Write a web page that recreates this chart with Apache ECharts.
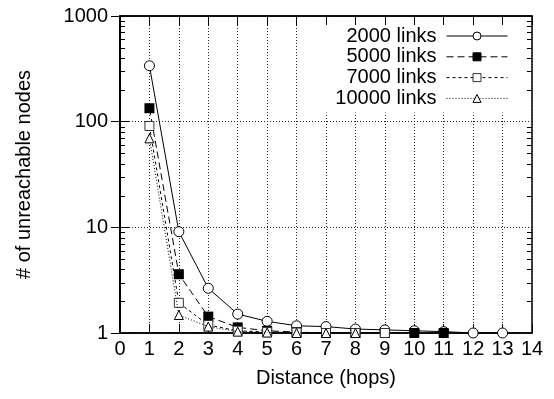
<!DOCTYPE html>
<html><head><meta charset="utf-8">
<script src="https://cdn.jsdelivr.net/npm/echarts@6/dist/echarts.min.js"></script>
<style>html,body{margin:0;padding:0;background:#fff}#c{width:554px;height:399px}</style>
</head><body><div id="c"></div>
<script>
var hops = [1,2,3,4,5,6,7,8,9,10,11,12,13];
var links2000  = [338, 9.1, 2.65, 1.51, 1.29, 1.17, 1.15, 1.09, 1.07, 1.05, 1.03, 1.0, 1.0];
var links5000  = [134, 3.6, 1.43, 1.13, 1.05, 1.02, 1.0, 1.0, 1.0, 1.0, 1.0];
var links7000  = [91, 1.93, 1.19, 1.05, 1.02, 1.01, 1.0, 1.0, 1.0];
var links10000 = [69.5, 1.48, 1.15, 1.03, 1.01, 1.0, 1.0, 1.0];
var xTicks = [0,1,2,3,4,5,6,7,8,9,10,11,12,13,14];
var yMajor = [1, 10, 100, 1000];
var yMinor = [2,3,4,5,6,7,8,9,20,30,40,50,60,70,80,90,200,300,400,500,600,700,800,900];
var names = ['2000 links','5000 links','7000 links','10000 links'];

var FONT = 'Liberation Sans, Arial, sans-serif';
function pairs(vals){ return vals.map(function(v,i){ return [hops[i], v]; }); }

var chart = echarts.init(document.getElementById('c'), null, {renderer:'canvas'});
var tickStyle = {inside:true, length:9, lineStyle:{color:'#000', width:1}};
var option = {
  animation:false,
  backgroundColor:'#fff',
  textStyle:{fontFamily:FONT},
  grid:{left:120, right:22, top:16, bottom:66, show:true, borderColor:'#000', borderWidth:1.5, backgroundColor:'transparent'},
  legend:{
    orient:'vertical', align:'right', right:42, top:25, padding:[1,4,4,30],
    backgroundColor:'#fff',
    itemWidth:61, itemHeight:10, itemGap:0.8,
    lineStyle:{width:1},
    itemStyle:{borderWidth:1},
    textStyle:{fontFamily:FONT, fontSize:20, color:'#000', lineHeight:20, padding:[0,5,0,0]},
    data:names
  },
  xAxis:[{
    type:'value', min:0, max:14, interval:1, position:'bottom',
    name:'Distance (hops)', nameLocation:'middle', nameGap:35,
    nameTextStyle:{fontFamily:FONT, fontSize:20, color:'#000'},
    axisLine:{show:true, lineStyle:{color:'#000', width:1.5}},
    axisTick:tickStyle,
    axisLabel:{fontFamily:FONT, fontSize:20, color:'#000', margin:6,
      formatter:function(v){ return xTicks.indexOf(v)>=0 ? String(v) : ''; }},
    splitLine:{show:true, lineStyle:{color:'#222', type:[1,2], width:1}}
  },{
    type:'value', min:0, max:14, interval:1, position:'top',
    axisLine:{show:true, lineStyle:{color:'#000', width:1.5}},
    axisTick:tickStyle, axisLabel:{show:false}, splitLine:{show:false}
  }],
  yAxis:[{
    type:'log', logBase:10, min:1, max:1000, position:'left',
    name:'# of unreachable nodes', nameLocation:'middle', nameGap:86,
    nameTextStyle:{fontFamily:FONT, fontSize:20, color:'#000'},
    axisLine:{show:true, lineStyle:{color:'#000', width:1.5}},
    axisTick:tickStyle,
    axisLabel:{fontFamily:FONT, fontSize:20, color:'#000', margin:12,
      formatter:function(v){ return yMajor.indexOf(Math.round(v))>=0 ? String(Math.round(v)) : ''; }},
    splitLine:{show:true, lineStyle:{color:'#222', type:[1,2], width:1}}
  },{
    type:'log', logBase:10, min:1, max:1000, position:'right',
    axisLine:{show:true, lineStyle:{color:'#000', width:1.5}},
    axisTick:tickStyle, axisLabel:{show:false}, splitLine:{show:false}
  }],
  series:[
    {name:names[0], type:'line', data:pairs(links2000), symbol:'circle', symbolSize:10,
     itemStyle:{color:'#fff', borderColor:'#000', borderWidth:1},
     lineStyle:{color:'#000', width:1, type:'solid'}, z:2},
    {name:names[1], type:'line', data:pairs(links5000), symbol:'rect', symbolSize:10,
     itemStyle:{color:'#000', borderColor:'#000', borderWidth:0},
     lineStyle:{color:'#000', width:1, type:[7,4]}, z:3},
    {name:names[2], type:'line', data:pairs(links7000), symbol:'rect', symbolSize:9,
     itemStyle:{color:'#fff', borderColor:'#333', borderWidth:1},
     lineStyle:{color:'#000', width:1, type:[3,3]}, z:4},
    {name:names[3], type:'line', data:pairs(links10000), symbol:'triangle', symbolSize:9,
     itemStyle:{color:'#fff', borderColor:'#000', borderWidth:1},
     lineStyle:{color:'#000', width:1, type:[1,2]}, z:5}
  ]
};
chart.setOption(option);

// minor log ticks at 2..9 × decade, placed through the axis scale
var x0 = chart.convertToPixel({xAxisIndex:0}, 0);
var x1 = chart.convertToPixel({xAxisIndex:0}, 14);
var els = [];
yMinor.forEach(function(v){
  var y = Math.round(chart.convertToPixel({yAxisIndex:0}, v)) + 0.5;
  els.push({type:'line', shape:{x1:x0, y1:y, x2:x0+5, y2:y}, style:{stroke:'#000', lineWidth:1}, z:10});
  els.push({type:'line', shape:{x1:x1, y1:y, x2:x1-5, y2:y}, style:{stroke:'#000', lineWidth:1}, z:10});
});
chart.setOption({graphic:els});
</script></body></html>
